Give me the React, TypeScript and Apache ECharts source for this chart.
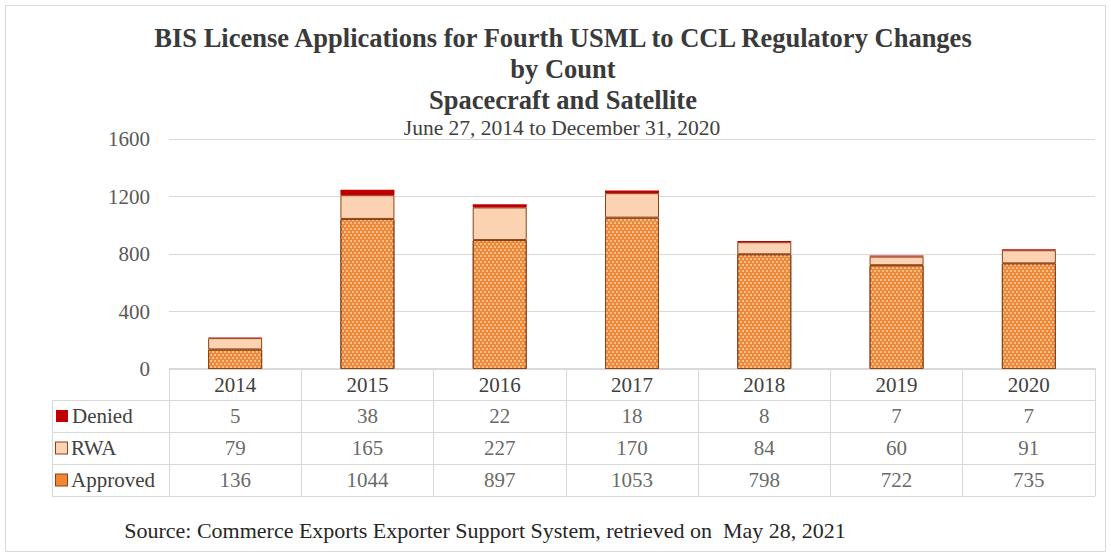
import React, { useEffect, useRef } from "react";
import * as echarts from "echarts";

const years = ["2014", "2015", "2016", "2017", "2018", "2019", "2020"];
const denied = [5, 38, 22, 18, 8, 7, 7];
const rwa = [79, 165, 227, 170, 84, 60, 91];
const approved = [136, 1044, 897, 1053, 798, 722, 735];
const yTicks = { min: 0, max: 1600, interval: 400 };
const rowNames = ["", "Denied", "RWA", "Approved"];
const titleLines = [
  "BIS License Applications for Fourth USML to CCL Regulatory Changes",
  "by Count",
  "Spacecraft and Satellite",
];
const subTitle = "June 27, 2014 to December 31, 2020";
const sourceText = "Source: Commerce Exports Exporter Support System, retrieved on  May 28, 2021";

const FONT = "'Liberation Serif', 'Times New Roman', serif";
const C_APPROVED = "#EE8837";
const C_RWA = "#FBD3B3";
const C_DENIED = "#C00000";
const C_EDGE = "#8A4216";
const C_GRID = "#D9D9D9";

export default function App() {
  const ref = useRef<HTMLDivElement>(null);
  useEffect(() => {
    document.body.style.margin = "0";
    const chart = echarts.init(ref.current!, null, { renderer: "svg" });
    const tableData: any[] = [];
    const seriesVals = [denied, rwa, approved];
    seriesVals.forEach((arr, r) => {
      arr.forEach((v, i) => tableData.push([years[i], rowNames[r + 1], v]));
    });
    const option: any = {
      animation: false,
      backgroundColor: "#fff",
      textStyle: { fontFamily: FONT },
      grid: [
        { left: 169, right: 16, top: 139, height: 230 },
        { left: 169, right: 16, top: 368, height: 128 },
      ],
      xAxis: [
        {
          type: "category",
          data: years,
          gridIndex: 0,
          axisTick: { show: false },
          axisLine: { lineStyle: { color: C_GRID } },
          axisLabel: { fontFamily: FONT, fontSize: 21, color: "#404040", margin: 5 },
        },
        {
          type: "category",
          data: years,
          gridIndex: 1,
          axisTick: { show: false },
          axisLine: { show: false },
          axisLabel: { show: false },
          splitLine: { show: true, lineStyle: { color: C_GRID } },
        },
      ],
      yAxis: [
        {
          type: "value",
          gridIndex: 0,
          ...yTicks,
          axisLine: { show: false },
          axisTick: { show: false },
          splitLine: { lineStyle: { color: C_GRID } },
          axisLabel: {
            fontFamily: FONT,
            fontSize: 21,
            color: "#595959",
            margin: 19,
            formatter: (v: number) => String(v),
          },
        },
        {
          type: "category",
          gridIndex: 1,
          data: rowNames,
          inverse: true,
          axisLine: { show: false },
          axisTick: { show: false },
          splitLine: { show: true, lineStyle: { color: C_GRID } },
          axisLabel: {
            align: "left",
            margin: 113,
            fontFamily: FONT,
            fontSize: 21,
            color: "#404040",
            formatter: (v: string) => {
              if (!v) return "";
              const key = v === "Denied" ? "d" : v === "RWA" ? "r" : "a";
              return `{${key}|}{t|${v}}`;
            },
            rich: {
              d: { width: 12, height: 12, backgroundColor: C_DENIED },
              r: { width: 11, height: 11, backgroundColor: C_RWA, borderColor: C_EDGE, borderWidth: 1 },
              a: { width: 11, height: 11, backgroundColor: C_APPROVED, borderColor: C_EDGE, borderWidth: 1 },
              t: { fontFamily: FONT, fontSize: 21, color: "#404040", padding: [0, 0, 0, 4] },
            },
          },
        },
      ],
      series: [
        {
          name: "Approved",
          type: "bar",
          stack: "total",
          barWidth: 54,
          data: approved,
          itemStyle: {
            color: C_APPROVED,
            borderColor: C_EDGE,
            borderWidth: 1,
            decal: {
              symbol: "circle",
              symbolSize: 0.9,
              dashArrayX: [[2, 2], [0, 2, 2, 0]],
              dashArrayY: [2, 1],
              color: "rgba(255,226,196,0.85)",
            },
          },
        },
        {
          name: "RWA",
          type: "bar",
          stack: "total",
          barWidth: 54,
          data: rwa,
          itemStyle: { color: C_RWA, borderColor: C_EDGE, borderWidth: 1 },
        },
        {
          name: "Denied",
          type: "bar",
          stack: "total",
          barWidth: 54,
          data: denied,
          itemStyle: { color: C_DENIED },
        },
        {
          type: "scatter",
          xAxisIndex: 1,
          yAxisIndex: 1,
          symbolSize: 1,
          itemStyle: { color: "rgba(0,0,0,0)" },
          data: tableData,
          label: {
            show: true,
            position: "inside",
            formatter: (p: any) => String(p.value[2]),
            fontFamily: FONT,
            fontSize: 21,
            color: "#404040",
          },
        },
      ],
      graphic: [
        {
          type: "rect",
          shape: { x: 5.5, y: 5.5, width: 1100, height: 546 },
          style: { fill: "none", stroke: C_GRID, lineWidth: 1 },
          silent: true,
        },
        ...[400, 432, 464, 496].map((y) => ({
          type: "line",
          shape: { x1: 52, y1: y + 0.5, x2: 169, y2: y + 0.5 },
          style: { stroke: C_GRID, lineWidth: 1 },
          silent: true,
        })),
        {
          type: "line",
          shape: { x1: 52.5, y1: 400, x2: 52.5, y2: 497 },
          style: { stroke: C_GRID, lineWidth: 1 },
          silent: true,
        },
        ...titleLines.map((t, i) => ({
          type: "text",
          x: 563,
          y: 38 + i * 31,
          style: {
            text: t,
            fontFamily: FONT,
            fontSize: 26.5,
            fontWeight: "bold",
            fill: "#3a3a3a",
            align: "center",
            verticalAlign: "middle",
          },
        })),
        {
          type: "text",
          x: 562,
          y: 128,
          style: {
            text: subTitle,
            fontFamily: FONT,
            fontSize: 21.5,
            fill: "#404040",
            align: "center",
            verticalAlign: "middle",
          },
        },
        {
          type: "text",
          x: 485,
          y: 530,
          style: {
            text: sourceText,
            fontFamily: FONT,
            fontSize: 22,
            fill: "#262626",
            align: "center",
            verticalAlign: "middle",
          },
        },
      ],
    };
    chart.setOption(option);
    return () => chart.dispose();
  }, []);
  return <div ref={ref} style={{ width: 1111, height: 558 }} />;
}
